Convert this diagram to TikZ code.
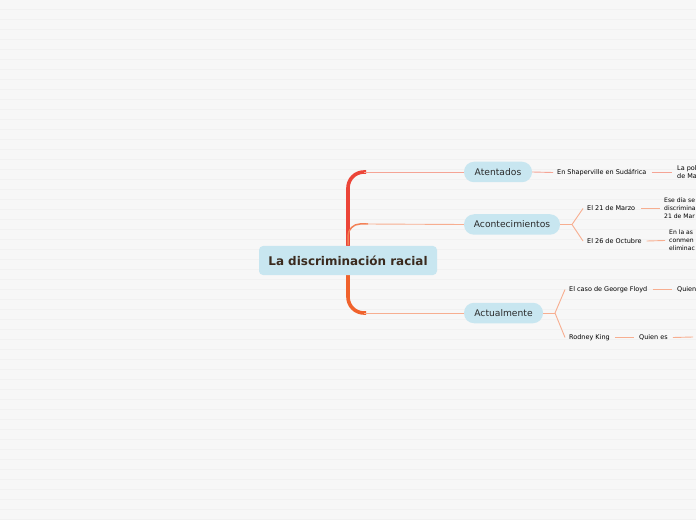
\documentclass[tikz,border=0pt]{standalone}
\usepackage{fontspec}
\setmainfont{DejaVu Sans}
\definecolor{bgc}{HTML}{F7F7F7}
\definecolor{stripe}{HTML}{F1F1F1}
\definecolor{nodeblue}{HTML}{C8E6F0}
\definecolor{txt}{HTML}{2B2B2B}
\definecolor{rootxt}{HTML}{3A2A1E}
\definecolor{trunkred}{HTML}{EC4538}
\definecolor{trunkor}{HTML}{F0622C}
\definecolor{salmon}{HTML}{F5A495}
\definecolor{peach}{HTML}{F7AE90}
\begin{document}
\begin{tikzpicture}[x=1bp,y=-1bp,
  root/.style={fill=nodeblue,rounded corners=4bp,minimum width=178bp,minimum height=29bp,inner sep=0pt,font=\fontsize{12}{14}\selectfont\bfseries,text=rootxt},
  topic/.style={fill=nodeblue,rounded corners=10bp,minimum height=20.5bp,inner sep=0pt,font=\fontsize{9.2}{11}\selectfont,text=txt},
  sub/.style={anchor=west,inner sep=0pt,font=\fontsize{6.5}{8}\selectfont,text=black},
  multi/.style={anchor=west,inner sep=0pt,align=left,font=\fontsize{6.5}{8}\selectfont,text=black},
  thin/.style={draw=salmon,line width=0.9bp},
  thinp/.style={draw=peach,line width=0.9bp}]
\useasboundingbox (0,0) rectangle (696,520);
\fill[bgc] (0,0) rectangle (696,520);
\foreach \y in {9,19,...,519} \fill[stripe] (0,\y) rectangle (696,\y+1);

% trunk
\draw[trunkred,line width=3.6bp,rounded corners=16bp] (348,250) -- (348,172) -- (366,172);
\draw[trunkor,line width=3.6bp,rounded corners=16bp] (348,270) -- (348,313) -- (366,313);
\draw[trunkor!80,line width=1.5bp,rounded corners=12bp] (348,245) -- (348,224) -- (368,224);

\node[root] (root) at (348,260.5) {La discriminación racial};
\node[topic,minimum width=68bp] (aten) at (498,172) {Atentados};
\node[topic,minimum width=96bp] (acon) at (512,224.5) {Acontecimientos};
\node[topic,minimum width=79bp] (actu) at (503.5,313) {Actualmente};

\coordinate (b1) at (364,172);
\coordinate (b2) at (366,224);
\coordinate (b3) at (364,313);
\draw[thin] (b1) -- (aten.west);
\draw[thinp] (b2) -- (acon.west);
\draw[thinp] (b3) -- (actu.west);

% Atentados
\node[sub] (shp) at (557,172.5) {En Shaperville en Sudáfrica};
\node[multi] (pol) at (677,172.5) {La pol\\de Ma};
\draw[thin] (aten.east) -- ([xshift=-4bp]shp.west);
\draw[thin] ([xshift=5bp]shp.east) -- ([xshift=-5bp]pol.west);

% Acontecimientos
\coordinate (f2) at (572,224.5);
\node[sub] (m21) at (587,208.5) {El 21 de Marzo};
\node[sub] (o26) at (587,241) {El 26 de Octubre};
\node[multi,font=\fontsize{6.1}{8}\selectfont] (ese) at (664,208.5) {Ese día se\\discrimina\\21 de Mar};
\node[multi,font=\fontsize{6.1}{8}\selectfont] (enla) at (669,240.5) {En la as\\conmen\\eliminac};
\draw[thinp] (acon.east) -- (f2);
\draw[thinp] (f2) -- ([xshift=-4bp]m21.west);
\draw[thinp] (f2) -- ([xshift=-4bp]o26.west);
\draw[thinp] ([xshift=6bp]m21.east) -- ([xshift=-4bp]ese.west);
\draw[thinp] ([xshift=5bp]o26.east) -- ([xshift=-4bp]enla.west);

% Actualmente
\coordinate (f3) at (555,313);
\node[sub] (gf) at (569,289.5) {El caso de George Floyd};
\node[sub] (rk) at (569,337.5) {Rodney King};
\node[sub] (q1) at (677,289.5) {Quien};
\node[sub] (q2) at (639,337.5) {Quien es};
\coordinate (q2end) at (693,337);
\draw[thinp] (actu.east) -- (f3);
\draw[thinp] (f3) -- ([xshift=-4bp]gf.west);
\draw[thinp] (f3) -- ([xshift=-4bp]rk.west);
\draw[thinp] ([xshift=5bp]gf.east) -- ([xshift=-5bp]q1.west);
\draw[thinp] ([xshift=5bp]rk.east) -- ([xshift=-5bp]q2.west);
\draw[thinp] ([xshift=5bp]q2.east) -- (q2end);
\end{tikzpicture}
\end{document}
